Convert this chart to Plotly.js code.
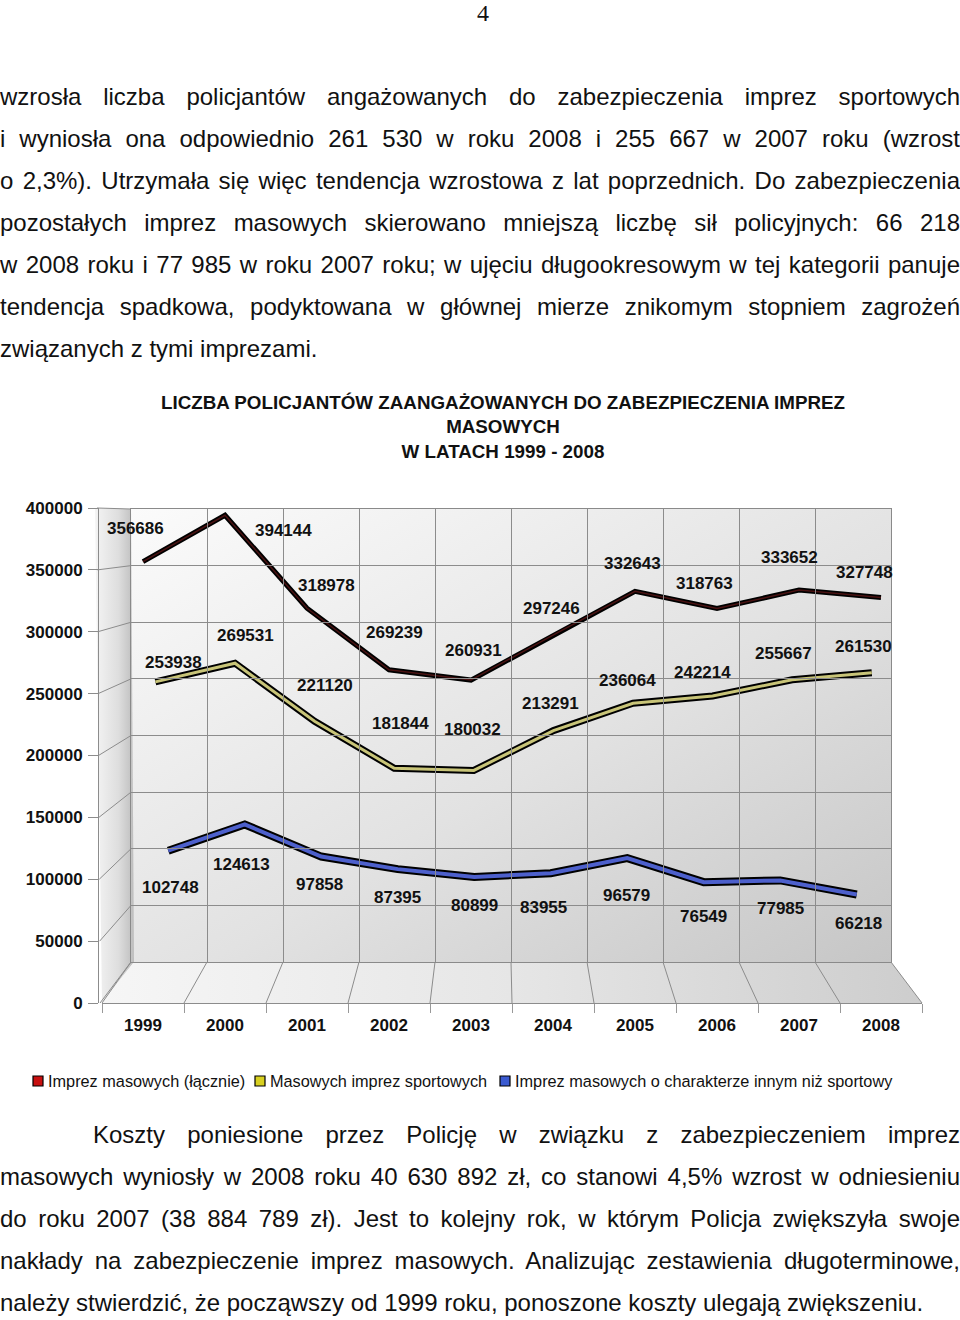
<!DOCTYPE html>
<html><head><meta charset="utf-8">
<script src="https://cdn.plot.ly/plotly-3.0.1.min.js"></script>
<style>
body{margin:0;background:#fff;}
#page{position:relative;width:960px;height:1320px;overflow:hidden;font-family:"Liberation Sans",Arial,sans-serif;color:#111;}
.ln{position:absolute;left:0;width:960px;height:42px;line-height:42px;font-size:24px;white-space:nowrap;text-align:justify;text-align-last:justify;}
.ln.left{text-align:left;text-align-last:left;}
#pnum{position:absolute;left:0;width:966px;top:0;line-height:26px;text-align:center;font-family:"Liberation Serif",serif;font-size:24px;}
#chart{position:absolute;left:0;top:370px;width:960px;height:740px;}
</style></head>
<body>
<div id="page">
<div id="pnum">4</div>
<div class="ln" style="top:76px">wzrosła liczba policjantów angażowanych do zabezpieczenia imprez sportowych</div>
<div class="ln" style="top:118px">i wyniosła ona odpowiednio 261 530 w roku 2008 i 255 667 w 2007 roku (wzrost</div>
<div class="ln" style="top:160px">o 2,3%). Utrzymała się więc tendencja wzrostowa z lat poprzednich. Do zabezpieczenia</div>
<div class="ln" style="top:202px">pozostałych imprez masowych skierowano mniejszą liczbę sił policyjnych: 66 218</div>
<div class="ln" style="top:244px">w 2008 roku i 77 985 w roku 2007 roku; w ujęciu długookresowym w tej kategorii panuje</div>
<div class="ln" style="top:286px">tendencja spadkowa, podyktowana w głównej mierze znikomym stopniem zagrożeń</div>
<div class="ln left" style="top:328px">związanych z tymi imprezami.</div>
<div id="chart"></div>
<div class="ln" style="top:1114px;left:93px;width:867px">Koszty poniesione przez Policję w związku z zabezpieczeniem imprez</div>
<div class="ln" style="top:1156px">masowych wyniosły w 2008 roku 40 630 892 zł, co stanowi 4,5% wzrost w odniesieniu</div>
<div class="ln" style="top:1198px">do roku 2007 (38 884 789 zł). Jest to kolejny rok, w którym Policja zwiększyła swoje</div>
<div class="ln" style="top:1240px">nakłady na zabezpieczenie imprez masowych. Analizując zestawienia długoterminowe,</div>
<div class="ln left" style="top:1282px">należy stwierdzić, że począwszy od 1999 roku, ponoszone koszty ulegają zwiększeniu.</div>
</div>
<script>
// ---------- data ----------
const years = ['1999','2000','2001','2002','2003','2004','2005','2006','2007','2008'];
const totalVals = [356686,394144,318978,269239,260931,297246,332643,318763,333652,327748];
const sportVals = [253938,269531,221120,181844,180032,213291,236064,242214,255667,261530];
const otherVals = [102748,124613,97858,87395,80899,83955,96579,76549,77985,66218];
const seriesNames = ['Imprez masowych (łącznie)','Masowych imprez sportowych','Imprez masowych o charakterze innym niż sportowy'];
const chartTitle = 'LICZBA POLICJANTÓW ZAANGAŻOWANYCH DO ZABEZPIECZENIA IMPREZ<br>MASOWYCH<br>W LATACH 1999 - 2008';

// ---------- styling / geometry ----------
const W = 960, TOP = 370, H = 740;
const px = x => x / W;
const py = y => 1 - (y - TOP) / H;
const YMAX = 400000, YSTEP = 50000;
const FONT = '"Liberation Sans", Arial, sans-serif';
const legendColors = ['#c81010', '#d8d020', '#3a5ad0'];
const legendSquareX = [38, 260, 505];
const legendY = 1081;
const outerW = [5, 7, 8], innerW = [1.5, 3, 4];
const innerColors = ['#4a1212', '#c8c478', '#4d60cc'];
// label offsets in px: [dx, dy(down)]
const totalShift = [[-8,-33],[58,15],[19,-23],[5,-37],[2,-30],[-2,-27],[-3,-28],[-13,-25],[-10,-33],[-17,-25]];
const sportShift = [[18,-19],[10,-28],[10,-36],[6,-45],[-1,-41],[-3,-27],[-6,-23],[-10,-23],[-9,-26],[-8,-26]];
const otherShift = [[2,37],[-3,40],[-2,28],[0,28],[0,29],[-7,34],[-1,37],[0,34],[0,28],[2,29]];

// frame geometry (px)
const front = {x0:102, x1:922, yTop:508, yBot:1003, axisX:97};
const back  = {x0:131, x1:891, yTop:509, yBot:962};

// background gradients (SVG image)
const ox = 88, oy = 500, iw = 844, ih = 512;
const P = (x, y) => (x - ox) + ',' + (y - oy);
const svg = `<svg xmlns="http://www.w3.org/2000/svg" width="${iw}" height="${ih}" viewBox="0 0 ${iw} ${ih}">
<defs>
<linearGradient id="bw" x1="0" y1="0" x2="1" y2="1"><stop offset="0" stop-color="#fbfbfb"/><stop offset="0.55" stop-color="#e2e2e2"/><stop offset="1" stop-color="#c6c6c6"/></linearGradient>
<linearGradient id="sw" x1="0" y1="0" x2="1" y2="0"><stop offset="0" stop-color="#f4f4f4"/><stop offset="0.6" stop-color="#dedede"/><stop offset="1" stop-color="#bdbdbd"/></linearGradient>
<linearGradient id="fl" x1="0" y1="0" x2="1" y2="0"><stop offset="0" stop-color="#f6f6f6"/><stop offset="0.5" stop-color="#e6e6e6"/><stop offset="1" stop-color="#cdcdcd"/></linearGradient>
</defs>
<polygon points="${P(back.x0,back.yTop)} ${P(back.x1,back.yTop)} ${P(back.x1,back.yBot)} ${P(back.x0,back.yBot)}" fill="url(#bw)"/>
<polygon points="${P(95,front.yTop)} ${P(back.x0,back.yTop)} ${P(back.x0+3,back.yBot)} ${P(front.x0,front.yBot)}" fill="url(#sw)"/>
<polygon points="${P(front.x0,front.yBot)} ${P(back.x0+3,back.yBot)} ${P(back.x1,back.yBot)} ${P(front.x1,front.yBot)}" fill="url(#fl)"/>
</svg>`;

const shapes = [];
const gridCol = '#8c8c8c';
// side wall lines
for (let v = 0; v <= YMAX; v += YSTEP) {
  const yf = front.yBot - v / YMAX * (front.yBot - front.yTop);
  const yb = back.yBot - v / YMAX * (back.yBot - back.yTop);
  const xf = front.axisX + (1 - v / YMAX) * 3;
  shapes.push({type:'line', xref:'paper', yref:'paper', x0:px(xf), y0:py(yf), x1:px(back.x0), y1:py(yb), line:{color:gridCol, width:1}, layer:'below'});
}
// floor lines
const n = years.length;
for (let k = 0; k <= n; k++) {
  const xb = back.x0 + (back.x1 - back.x0) * k / n;
  const xf = front.x0 + (front.x1 - front.x0) * k / n;
  shapes.push({type:'line', xref:'paper', yref:'paper', x0:px(xb), y0:py(back.yBot), x1:px(xf), y1:py(front.yBot), line:{color:gridCol, width:1}, layer:'below'});
}
// legend squares
legendSquareX.forEach((cx, i) => {
  shapes.push({type:'rect', xref:'paper', yref:'paper', x0:px(cx - 5), x1:px(cx + 5), y0:py(legendY + 5), y1:py(legendY - 5),
    fillcolor: legendColors[i], line:{color:'#000', width:1.2}});
});

// ---------- traces ----------
const seriesDefs = [
  {vals: totalVals, xa:'x', ya:'y', shift: totalShift},
  {vals: sportVals, xa:'x2', ya:'y2', shift: sportShift},
  {vals: otherVals, xa:'x3', ya:'y3', shift: otherShift}
];
const traces = [];
seriesDefs.forEach((s, i) => {
  traces.push({type:'scatter', mode:'lines', x: years, y: s.vals, xaxis: s.xa, yaxis: s.ya,
    line:{color:'#000', width: outerW[i]}, showlegend:false, hoverinfo:'skip'});
  traces.push({type:'scatter', mode:'lines', x: years, y: s.vals, xaxis: s.xa, yaxis: s.ya,
    line:{color: innerColors[i], width: innerW[i]}, showlegend:false, name: seriesNames[i]});
});
// back wall grid holder
traces.push({type:'scatter', x:[], y:[], xaxis:'x4', yaxis:'y4', showlegend:false, hoverinfo:'skip'});

// ---------- annotations ----------
const annotations = [];
seriesDefs.forEach(s => {
  s.vals.forEach((v, j) => {
    annotations.push({xref: s.xa, yref: s.ya, x: j, y: v, text: String(v), showarrow:false,
      xshift: s.shift[j][0], yshift: -s.shift[j][1],
      font:{family: FONT, size:17, color:'#111', weight:'bold'}});
  });
});
// legend texts
seriesNames.forEach((nm, i) => {
  annotations.push({xref:'paper', yref:'paper', x: px(legendSquareX[i] + 8), y: py(legendY), xanchor:'left', yanchor:'middle',
    text: nm, showarrow:false, font:{family: FONT, size:16.3, color:'#111'}});
});

const hidden = {visible:false, fixedrange:true};
const layout = {
  width: W, height: H,
  margin:{l:0, r:0, t:0, b:0},
  paper_bgcolor:'#fff', plot_bgcolor:'rgba(0,0,0,0)',
  font:{family: FONT, color:'#111'},
  title:{text: chartTitle, x: 503 / W, xanchor:'center', xref:'paper', y: py(409), yref:'paper', yanchor:'middle',
    font:{family: FONT, size:18.8, color:'#111', weight:'bold'}},
  showlegend:false,
  xaxis:{domain:[px(front.x0), px(front.x1)], type:'category', range:[-0.5, n - 0.5], anchor:'y',
    tickson:'boundaries', ticks:'outside', ticklen:9, tickcolor:'#999', showline:true, linecolor:'#8c8c8c',
    showgrid:false, zeroline:false, ticklabelstandoff:7,
    tickfont:{family: FONT, size:17, color:'#111', weight:'bold'}, fixedrange:true},
  yaxis:{domain:[py(front.yBot), py(front.yTop)], range:[0, YMAX], dtick: YSTEP, tick0:0, tickformat:'d',
    anchor:'free', position: px(front.axisX + 1), ticks:'outside', ticklen:10, tickcolor:'#8c8c8c',
    showline:true, linecolor:'#8c8c8c', showgrid:false, zeroline:false, ticklabelstandoff:2,
    tickfont:{family: FONT, size:17, color:'#111', weight:'bold'}, fixedrange:true},
  xaxis2:Object.assign({domain:[px(115.6), px(911.6)], type:'category', range:[-0.5, n - 0.5], anchor:'y2'}, hidden),
  yaxis2:Object.assign({domain:[py(986), py(507)], range:[0, YMAX], anchor:'x2'}, hidden),
  xaxis3:Object.assign({domain:[px(130), px(895)], type:'category', range:[-0.5, n - 0.5], anchor:'y3'}, hidden),
  yaxis3:Object.assign({domain:[py(974), py(494)], range:[0, YMAX], anchor:'x3'}, hidden),
  xaxis4:{domain:[px(back.x0), px(back.x1)], range:[0, n], dtick:1, tick0:0, anchor:'y4', showgrid:true, gridcolor:gridCol, gridwidth:1,
    showticklabels:false, ticks:'', showline:true, mirror:true, linecolor:'#8a8a8a', zeroline:false, fixedrange:true},
  yaxis4:{domain:[py(back.yBot), py(back.yTop)], range:[0, YMAX], dtick: YSTEP, tick0:0, anchor:'x4', showgrid:true, gridcolor:gridCol, gridwidth:1,
    showticklabels:false, ticks:'', showline:true, mirror:true, linecolor:'#8a8a8a', zeroline:false, fixedrange:true},
  shapes: shapes,
  annotations: annotations,
  images:[{source:'data:image/svg+xml;charset=utf-8,' + encodeURIComponent(svg), xref:'paper', yref:'paper',
    x: px(ox), y: py(oy), sizex: iw / W, sizey: ih / H, xanchor:'left', yanchor:'top', sizing:'stretch', layer:'below'}]
};
Plotly.newPlot('chart', traces, layout, {staticPlot:true, displayModeBar:false});
</script>
</body></html>
